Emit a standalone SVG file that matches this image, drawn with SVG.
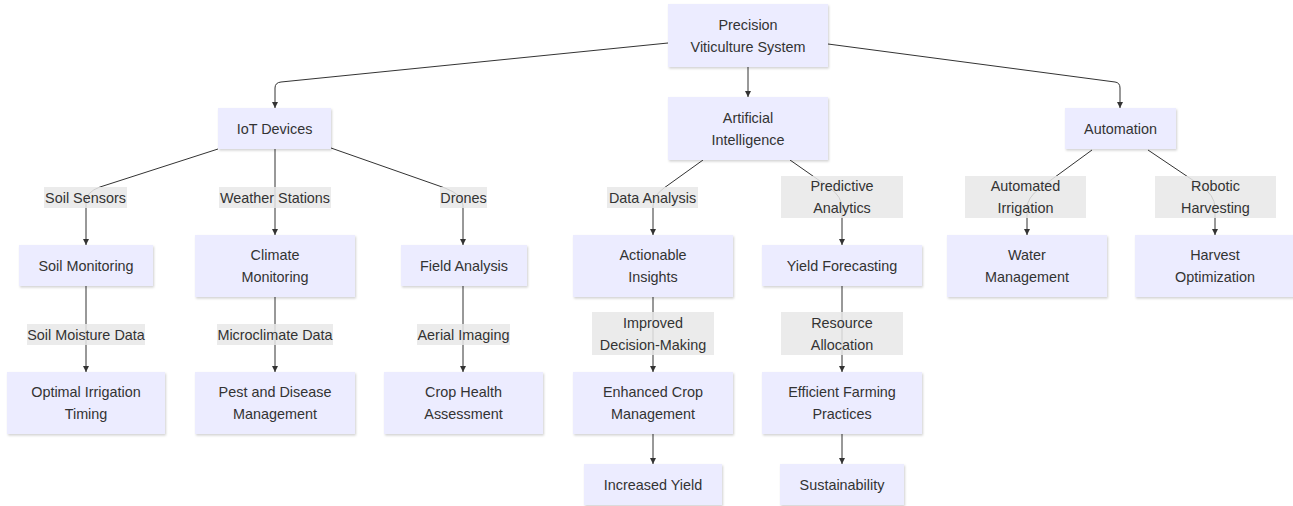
<svg xmlns="http://www.w3.org/2000/svg" width="1293" height="506" viewBox="0 0 1293 506">
<style>
.node rect{fill:#ECECFF;filter:url(#sh)}
.node text,.elabel text{font-family:"Liberation Sans",Arial,sans-serif;font-size:14.4px;fill:#333;text-anchor:middle}
.elabel rect{fill:rgba(232,232,232,0.85)}
.edge{fill:none;stroke:#333;stroke-width:1;marker-end:url(#arr)}
</style>
<defs>
<filter id="sh" x="-10%" y="-10%" width="125%" height="130%">
<feDropShadow dx="1" dy="1.5" stdDeviation="1" flood-color="#000" flood-opacity="0.18"/>
</filter>
<marker id="arr" viewBox="0 0 10 10" refX="10" refY="5" markerWidth="6" markerHeight="6" markerUnits="userSpaceOnUse" orient="auto">
<path d="M0,0 L10,5 L0,10 z" fill="#333"/>
</marker>
</defs>
<rect width="1293" height="506" fill="#fff"/>
<g id="connectors">
<path class="edge" d="M668,43 L281,82 Q275,82.6 275,88 L275,108"/>
<path class="edge" d="M748,67 L748,97"/>
<path class="edge" d="M828,44 L1115,82 Q1120,82.6 1120,88 L1120,108"/>
<path class="edge" d="M218,149 L100,187 Q86,192 86,202 L86,245"/>
<path class="edge" d="M275,149 L275,235"/>
<path class="edge" d="M331,148 L445,188 Q463,195 463,205 L463,245"/>
<path class="edge" d="M703,160 L664,188 Q653,196 653,206 L653,235"/>
<path class="edge" d="M790,160 L830,188 Q842,197 842,208 L842,245"/>
<path class="edge" d="M1092,150 L1040,188 Q1027,198 1027,208 L1027,235"/>
<path class="edge" d="M1148,150 L1200,185 Q1215,195 1215,208 L1215,235"/>
<path class="edge" d="M86,286 L86,372"/>
<path class="edge" d="M275,297 L275,372"/>
<path class="edge" d="M463,286 L463,372"/>
<path class="edge" d="M653,297 L653,372"/>
<path class="edge" d="M842,286 L842,372"/>
<path class="edge" d="M653,434 L653,464"/>
<path class="edge" d="M842,434 L842,464"/>
</g>
<g id="edge-labels">
<g class="elabel"><rect x="44" y="187" width="83" height="21"/><text x="85.5" y="202.5">Soil Sensors</text></g>
<g class="elabel"><rect x="219" y="187" width="112" height="21"/><text x="275" y="202.5">Weather Stations</text></g>
<g class="elabel"><rect x="440" y="187" width="47" height="21"/><text x="463.5" y="202.5">Drones</text></g>
<g class="elabel"><rect x="607" y="187" width="91" height="21"/><text x="652.5" y="202.5">Data Analysis</text></g>
<g class="elabel"><rect x="781" y="176" width="122" height="42"/><text x="842" y="191">Predictive</text><text x="842" y="213">Analytics</text></g>
<g class="elabel"><rect x="965" y="176" width="121" height="42"/><text x="1025.5" y="191">Automated</text><text x="1025.5" y="213">Irrigation</text></g>
<g class="elabel"><rect x="1155" y="176" width="121" height="42"/><text x="1215.5" y="191">Robotic</text><text x="1215.5" y="213">Harvesting</text></g>
<g class="elabel"><rect x="27" y="324" width="118" height="21"/><text x="86" y="339.5">Soil Moisture Data</text></g>
<g class="elabel"><rect x="217" y="324" width="116" height="21"/><text x="275" y="339.5">Microclimate Data</text></g>
<g class="elabel"><rect x="417" y="324" width="93" height="21"/><text x="463.5" y="339.5">Aerial Imaging</text></g>
<g class="elabel"><rect x="592" y="312" width="122" height="43"/><text x="653" y="327.5">Improved</text><text x="653" y="349.5">Decision-Making</text></g>
<g class="elabel"><rect x="781" y="312" width="122" height="43"/><text x="842" y="327.5">Resource</text><text x="842" y="349.5">Allocation</text></g>
</g>
<g id="n_pvs" class="node"><rect x="668" y="4" width="160" height="63"/><text x="748" y="30">Precision</text><text x="748" y="52">Viticulture System</text></g>
<g id="n_ai" class="node"><rect x="668" y="97" width="160" height="63"/><text x="748" y="123">Artificial</text><text x="748" y="145">Intelligence</text></g>
<g id="n_iot" class="node"><rect x="218" y="108" width="113" height="41"/><text x="274.5" y="133.5">IoT Devices</text></g>
<g id="n_auto" class="node"><rect x="1065" y="108" width="111" height="41"/><text x="1120.5" y="133.5">Automation</text></g>
<g id="n_soilmon" class="node"><rect x="19" y="245" width="134" height="41"/><text x="86" y="270.5">Soil Monitoring</text></g>
<g id="n_climate" class="node"><rect x="195" y="235" width="160" height="62"/><text x="275" y="260">Climate</text><text x="275" y="282">Monitoring</text></g>
<g id="n_field" class="node"><rect x="401" y="245" width="126" height="41"/><text x="464" y="270.5">Field Analysis</text></g>
<g id="n_insights" class="node"><rect x="573" y="235" width="160" height="62"/><text x="653" y="260">Actionable</text><text x="653" y="282">Insights</text></g>
<g id="n_yield" class="node"><rect x="762" y="245" width="160" height="41"/><text x="842" y="270.5">Yield Forecasting</text></g>
<g id="n_water" class="node"><rect x="947" y="235" width="160" height="62"/><text x="1027" y="260">Water</text><text x="1027" y="282">Management</text></g>
<g id="n_harvest" class="node"><rect x="1135" y="235" width="160" height="62"/><text x="1215" y="260">Harvest</text><text x="1215" y="282">Optimization</text></g>
<g id="n_irrig" class="node"><rect x="7" y="372" width="158" height="62"/><text x="86" y="397">Optimal Irrigation</text><text x="86" y="419">Timing</text></g>
<g id="n_pest" class="node"><rect x="195" y="372" width="160" height="62"/><text x="275" y="397">Pest and Disease</text><text x="275" y="419">Management</text></g>
<g id="n_crop" class="node"><rect x="384" y="372" width="159" height="62"/><text x="463.5" y="397">Crop Health</text><text x="463.5" y="419">Assessment</text></g>
<g id="n_enh" class="node"><rect x="573" y="372" width="160" height="62"/><text x="653" y="397">Enhanced Crop</text><text x="653" y="419">Management</text></g>
<g id="n_eff" class="node"><rect x="762" y="372" width="160" height="62"/><text x="842" y="397">Efficient Farming</text><text x="842" y="419">Practices</text></g>
<g id="n_incr" class="node"><rect x="584" y="464" width="138" height="41"/><text x="653" y="489.5">Increased Yield</text></g>
<g id="n_sust" class="node"><rect x="780" y="464" width="124" height="41"/><text x="842" y="489.5">Sustainability</text></g>
</svg>
